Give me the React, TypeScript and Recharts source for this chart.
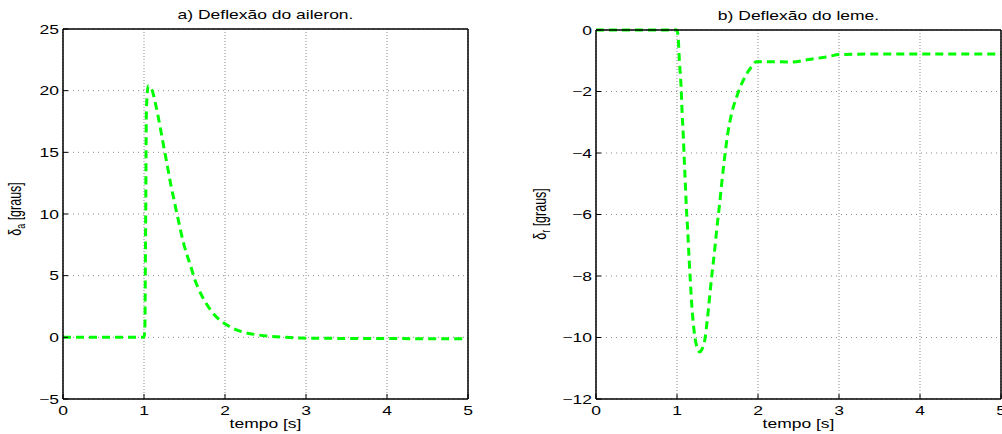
import React from "react";
import { LineChart, Line, XAxis, YAxis, CartesianGrid, Label } from "recharts";

// δa, aileron deflection (graus) vs tempo (s)
const aileronTime = [
  0, 1.0, 1.01, 1.02, 1.03, 1.053, 1.075, 1.107, 1.14, 1.169, 1.198, 1.226,
  1.251, 1.28, 1.305, 1.333, 1.362, 1.391, 1.424, 1.457, 1.494, 1.535, 1.58,
  1.626, 1.683, 1.745, 1.835, 1.946, 2.045, 2.206, 2.391, 2.576, 2.761, 2.946,
  3.5, 4.0, 4.5, 5.0,
];
const aileronDeflection = [
  0, 0, 0.6, 9, 18.5, 20.4, 20.3, 19.9, 19.0, 18.1, 17.1, 16.1, 15.2, 14.2,
  13.3, 12.3, 11.4, 10.5, 9.5, 8.5, 7.5, 6.6, 5.7, 4.7, 3.8, 3.0, 2.1, 1.35,
  0.92, 0.46, 0.21, 0.08, 0.0, -0.06, -0.09, -0.1, -0.11, -0.12,
];

// δr, rudder deflection (graus) vs tempo (s)
const rudderTime = [
  0, 1.0, 1.017, 1.029, 1.05, 1.062, 1.078, 1.09, 1.103, 1.115, 1.132, 1.148,
  1.164, 1.181, 1.21, 1.25, 1.28, 1.305, 1.346, 1.374, 1.399, 1.428, 1.461,
  1.49, 1.522, 1.552, 1.584, 1.621, 1.675, 1.737, 1.819, 1.922, 1.98, 2.1, 2.4,
  2.65, 2.86, 3.0, 3.5, 4.0, 5.0,
];
const rudderDeflection = [
  0, 0, -0.33, -0.98, -1.84, -2.6, -3.47, -4.23, -5.0, -5.75, -6.5, -7.37,
  -8.13, -8.89, -9.76, -10.35, -10.47, -10.4, -10.03, -9.43, -8.78, -8.02,
  -7.26, -6.5, -5.75, -4.99, -4.23, -3.47, -2.71, -2.17, -1.63, -1.19, -1.03,
  -1.03, -1.04, -0.95, -0.87, -0.8, -0.78, -0.78, -0.78,
];

const timeTicks = [0, 1, 2, 3, 4, 5];
const aileronTicks = [-5, 0, 5, 10, 15, 20, 25];
const rudderTicks = [-12, -10, -8, -6, -4, -2, 0];

const FONT = "'Liberation Sans', Arial, Helvetica, sans-serif";
const FS = 12.5;
// the original figure is stretched horizontally
const SX = 1.4;
const GREEN = "#00ff00";

const fmt = (v: number) => (v < 0 ? `\u2212${Math.abs(v)}` : `${v}`);

function XTick(props: any) {
  const { x, y, payload } = props;
  return (
    <text
      transform={`translate(${x},${y}) scale(${SX},1)`}
      textAnchor="middle"
      fontFamily={FONT}
      fontSize={FS}
      fill="#000"
    >
      {fmt(payload.value)}
    </text>
  );
}

function YTick(props: any) {
  const { x, y, payload } = props;
  return (
    <text
      transform={`translate(${x},${y}) scale(${SX},1)`}
      dy={4.8}
      textAnchor="end"
      fontFamily={FONT}
      fontSize={FS}
      fill="#000"
    >
      {fmt(payload.value)}
    </text>
  );
}

const centerText = (text: string, baseline: number) => (props: any) => {
  const vb = props.viewBox || {};
  const cx = (vb.x ?? 0) + (vb.width ?? 0) / 2;
  return (
    <text
      transform={`translate(${cx},${baseline}) scale(${SX},1)`}
      textAnchor="middle"
      fontFamily={FONT}
      fontSize={FS}
      fill="#000"
    >
      {text}
    </text>
  );
};

const yTitle = (sub: string, gap: number, cy: number) => (props: any) => {
  const vb = props.viewBox || {};
  const axisX = (vb.x ?? 0) + (vb.width ?? 0);
  return (
    <text
      transform={`translate(${axisX - gap},${cy}) scale(${SX},1) rotate(-90)`}
      textAnchor="middle"
      fontFamily={FONT}
      fontSize={FS}
      fill="#000"
    >
      δ
      <tspan dy={3} fontSize={9}>
        {sub}
      </tspan>
      <tspan dy={-3}> [graus]</tspan>
    </text>
  );
};

interface PanelProps {
  time: number[];
  values: number[];
  yDomain: [number, number];
  yTicks: number[];
  title: string;
  sub: string;
  width: number;
  yWidth: number;
  top: number;
  right: number;
  titleBase: number;
  labelGap: number;
  labelY: number;
}

function Panel({
  time,
  values,
  yDomain,
  yTicks,
  title,
  sub,
  width,
  yWidth,
  top,
  right,
  titleBase,
  labelGap,
  labelY,
}: PanelProps) {
  const data = time.map((t, i) => ({ t, v: values[i] }));
  const axisStroke = { stroke: "#000", strokeWidth: 1.5 };
  return (
    <LineChart
      width={width}
      height={434}
      data={data}
      margin={{ top, right, bottom: 0, left: 0 }}
    >
      <CartesianGrid
        horizontal={false}
        stroke="#8a8a8a"
        strokeDasharray="1 2"
      />
      <CartesianGrid vertical={false} stroke="#8a8a8a" strokeDasharray="1 4" />
      <XAxis
        dataKey="t"
        type="number"
        domain={[0, 5]}
        ticks={timeTicks}
        interval={0}
        height={35}
        axisLine={axisStroke}
        tickLine={{ stroke: "#000" }}
        tickSize={-5}
        tickMargin={21}
        tick={<XTick />}
      >
        <Label content={centerText("tempo [s]", 428)} />
      </XAxis>
      <XAxis
        xAxisId="top"
        orientation="top"
        type="number"
        domain={[0, 5]}
        ticks={timeTicks}
        interval={0}
        height={1}
        axisLine={axisStroke}
        tickLine={{ stroke: "#000" }}
        tickSize={-5}
        tick={false}
      >
        <Label content={centerText(title, titleBase)} />
      </XAxis>
      <YAxis
        type="number"
        domain={yDomain}
        ticks={yTicks}
        interval={0}
        width={yWidth}
        axisLine={axisStroke}
        tickLine={{ stroke: "#000" }}
        tickSize={-5}
        tickMargin={9}
        tick={<YTick />}
      >
        <Label content={yTitle(sub, labelGap, labelY)} />
      </YAxis>
      <YAxis
        yAxisId="right"
        orientation="right"
        type="number"
        domain={yDomain}
        ticks={yTicks}
        interval={0}
        width={1}
        axisLine={axisStroke}
        tickLine={{ stroke: "#000" }}
        tickSize={-5}
        tick={false}
      />
      <Line
        type="monotone"
        dataKey="v"
        stroke={GREEN}
        strokeWidth={3}
        strokeDasharray="8 5"
        dot={false}
        activeDot={false}
        isAnimationActive={false}
      />
    </LineChart>
  );
}

export default function App() {
  return (
    <div
      style={{
        position: "absolute",
        left: 0,
        top: 0,
        width: 1002,
        height: 434,
        background: "#fff",
        overflow: "hidden",
      }}
    >
      <div style={{ position: "absolute", left: 0, top: 0 }}>
        <Panel
          time={aileronTime}
          values={aileronDeflection}
          yDomain={[-5, 25]}
          yTicks={aileronTicks}
          title="a) Deflexão do aileron."
          sub="a"
          width={481}
          yWidth={63}
          top={28}
          right={12}
          titleBase={18.5}
          labelGap={42.5}
          labelY={209}
        />
      </div>
      <div style={{ position: "absolute", left: 503, top: 0 }}>
        <Panel
          time={rudderTime}
          values={rudderDeflection}
          yDomain={[-12, 0]}
          yTicks={rudderTicks}
          title="b) Deflexão do leme."
          sub="r"
          width={499}
          yWidth={93}
          top={29}
          right={0}
          titleBase={19.5}
          labelGap={50}
          labelY={214}
        />
      </div>
    </div>
  );
}
